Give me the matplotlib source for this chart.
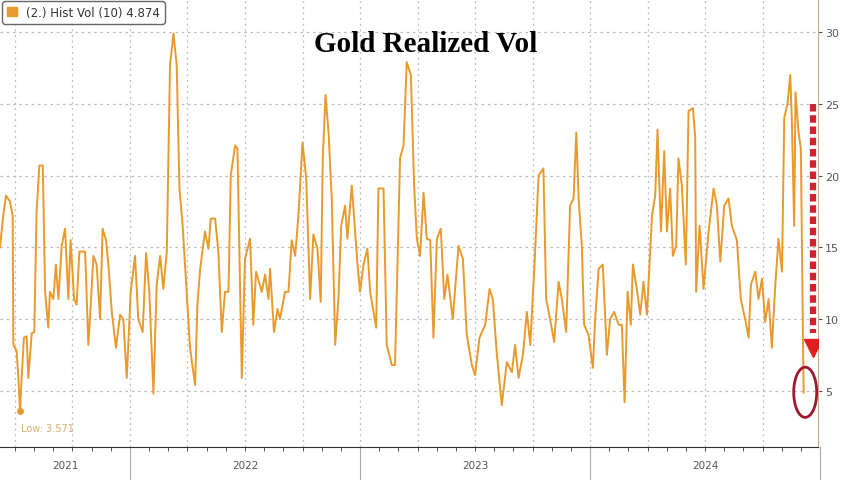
import matplotlib.pyplot as plt
from matplotlib.patches import Ellipse, Patch

# decimal year, realized vol (10d)
dates = [
    2021.435, 2021.449, 2021.461, 2021.478, 2021.490, 2021.493, 2021.507, 2021.515, 2021.522, 2021.529,
    2021.539, 2021.551, 2021.558, 2021.573, 2021.584, 2021.594, 2021.606, 2021.621, 2021.631, 2021.645,
    2021.652, 2021.667, 2021.678, 2021.689, 2021.703, 2021.718, 2021.732, 2021.742, 2021.757, 2021.768,
    2021.780, 2021.805, 2021.819, 2021.826, 2021.841, 2021.855, 2021.870, 2021.881, 2021.896, 2021.906,
    2021.921, 2021.939, 2021.957, 2021.971, 2021.986, 2022.003, 2022.022, 2022.036, 2022.055, 2022.070,
    2022.084, 2022.102, 2022.116, 2022.131, 2022.145, 2022.160, 2022.174, 2022.189, 2022.203, 2022.215,
    2022.229, 2022.261, 2022.283, 2022.293, 2022.305, 2022.326, 2022.341, 2022.351, 2022.370, 2022.384,
    2022.399, 2022.413, 2022.428, 2022.438, 2022.457, 2022.467, 2022.486, 2022.500, 2022.522, 2022.536,
    2022.548, 2022.573, 2022.587, 2022.602,
    2022.609, 2022.626, 2022.641, 2022.652, 2022.674, 2022.689, 2022.703, 2022.718, 2022.732, 2022.750,
    2022.766, 2022.783, 2022.797, 2022.815, 2022.829, 2022.838, 2022.850, 2022.863, 2022.877, 2022.892,
    2022.906, 2022.918, 2022.935, 2022.945, 2022.964, 2022.989, 2023.000, 2023.015, 2023.032, 2023.044,
    2023.070, 2023.080, 2023.102, 2023.116, 2023.138, 2023.152, 2023.174, 2023.189, 2023.203, 2023.221,
    2023.235, 2023.247, 2023.261, 2023.276, 2023.290, 2023.305, 2023.319, 2023.334, 2023.351, 2023.366,
    2023.380, 2023.403, 2023.428, 2023.447, 2023.464, 2023.486, 2023.500, 2023.519, 2023.544, 2023.563,
    2023.577, 2023.595, 2023.616, 2023.638, 2023.660, 2023.674, 2023.689, 2023.708, 2023.725, 2023.740,
    2023.761, 2023.776,
    2023.797, 2023.809, 2023.826, 2023.844, 2023.863, 2023.877, 2023.896, 2023.913, 2023.928, 2023.940,
    2023.950, 2023.964, 2023.974, 2023.993, 2024.012, 2024.022, 2024.037, 2024.055, 2024.073, 2024.087,
    2024.105, 2024.124, 2024.138, 2024.150, 2024.163, 2024.177, 2024.186, 2024.203, 2024.218, 2024.232,
    2024.247, 2024.269, 2024.283, 2024.293, 2024.308, 2024.322, 2024.334, 2024.348, 2024.360, 2024.374,
    2024.384, 2024.399, 2024.416, 2024.428, 2024.447, 2024.457, 2024.461, 2024.476, 2024.493, 2024.515,
    2024.537, 2024.551, 2024.566, 2024.583, 2024.602, 2024.616, 2024.638, 2024.655, 2024.674, 2024.689,
    2024.699, 2024.718, 2024.732, 2024.747, 2024.761, 2024.776, 2024.790, 2024.805, 2024.819, 2024.834,
    2024.844, 2024.858, 2024.870, 2024.877, 2024.887, 2024.893, 2024.906, 2024.916, 2024.928,
]
vol = [
    15.0, 17.2, 18.6, 18.2, 17.2, 8.2, 7.8, 5.9, 3.571, 5.9,
    8.7, 8.8, 5.9, 9.0, 9.1, 17.5, 20.7, 20.7, 11.9, 9.4,
    11.9, 11.4, 13.8, 11.4, 15.1, 16.3, 11.4, 15.5, 11.4, 11.0,
    14.7, 14.7, 8.2, 10.0, 14.4, 13.8, 10.0, 16.3, 15.5, 13.8,
    10.5, 8.0, 10.3, 10.0, 5.9, 11.9, 14.4, 10.0, 9.1, 14.6,
    11.9, 4.8, 12.4, 14.4, 12.1, 14.7, 27.7, 29.9, 27.7, 19.1,
    16.5, 8.0, 5.4, 11.0, 13.5, 16.1, 14.9, 17.0, 17.0, 14.7,
    9.1, 11.9, 11.9, 20.0, 22.1, 21.9, 5.9, 14.2, 15.6, 9.6,
    13.3, 11.9, 13.1, 11.4,
    13.5, 9.1, 10.7, 10.0, 11.9, 11.9, 15.5, 14.4, 17.2, 22.3,
    19.8, 11.4, 15.9, 14.9, 11.2, 21.2, 25.6, 23.0, 18.4, 8.2,
    11.4, 16.5, 17.9, 15.6, 19.3, 13.8, 11.9, 13.8, 14.9, 11.9,
    9.4, 19.1, 19.1, 8.2, 6.8, 6.8, 21.2, 22.1, 27.9, 27.0,
    19.3, 15.6, 14.4, 18.8, 15.6, 15.5, 8.7, 15.6, 16.3, 11.4,
    13.1, 10.0, 15.1, 14.2, 8.9, 6.8, 6.1, 8.7, 9.6, 12.1,
    11.4, 7.5, 4.0, 7.0, 6.3, 8.2, 5.9, 7.5, 10.5, 8.2,
    14.7, 20.0,
    20.5, 11.4, 10.0, 8.4, 12.6, 11.4, 9.1, 17.9, 18.4, 23.0,
    18.4, 15.1, 9.6, 8.9, 6.6, 10.0, 13.5, 13.8, 7.5, 10.0,
    10.5, 9.6, 9.6, 4.2, 11.9, 9.6, 13.8, 12.1, 10.3, 12.6,
    10.3, 17.2, 18.6, 23.2, 16.1, 21.7, 16.1, 19.1, 14.4, 15.1,
    21.2, 19.3, 13.8, 24.5, 24.7, 22.6, 11.9, 16.5, 12.1, 16.1,
    19.1, 17.9, 14.0, 17.9, 18.4, 16.5, 15.5, 11.4, 10.0, 8.7,
    12.4, 13.3, 11.4, 12.8, 9.8, 11.4, 8.0, 12.4, 15.6, 13.3,
    24.0, 25.0, 27.0, 23.8, 16.5, 25.8, 23.0, 21.9, 4.874,
]
years = [2021, 2022, 2023, 2024]
yticks = [5, 10, 15, 20, 25, 30]

line_color = '#E89A2C'
gray = '#555555'
x0, x1 = 2021.435, 2024.992

fig = plt.figure(figsize=(8.48, 4.81), dpi=100)
ax = fig.add_axes([0.0, 0.069, 0.965, 0.931])
ax.plot(dates, vol, color=line_color, lw=1.4, zorder=3)

# low marker
ax.plot(dates[8], vol[8], 'o', color=line_color, ms=4, zorder=4)
ax.text(dates[8] + 0.005, 2.4, 'Low: 3.571', color='#D9B070', fontsize=7, va='center')

# grid at quarters
quarters = [y + q / 4 for y in range(2021, 2025) for q in range(4)] + [2025]
for q in quarters:
    ax.axvline(q, color='#BBBBBB', ls=(0, (1.5, 3)), lw=0.9, zorder=1)
for y in yticks:
    ax.axhline(y, color='#BBBBBB', ls=(0, (2, 3)), lw=0.9, zorder=1)

ax.yaxis.tick_right()
ax.set_yticks(yticks)
ax.tick_params(axis='y', colors=gray, labelsize=8, length=3, pad=2)
months = [y + m / 12 for y in range(2021, 2025) for m in range(12)]
ax.set_xticks(months, minor=True)
ax.set_xticks([])
ax.tick_params(axis='x', which='minor', length=3, color='#333333')
for s in ['top', 'left']:
    ax.spines[s].set_visible(False)
ax.spines['right'].set_color('#C8B27A')
ax.spines['bottom'].set_color('#333333')
ax.set_xlim(x0, x1)
ax.set_ylim(1.1, 32.3)

# year labels and separators
for y in years:
    center = (x0 + 2022) / 2 if y == 2021 else y + 0.5
    ax.text(center, -0.03, str(y), transform=ax.get_xaxis_transform(),
            ha='center', va='top', fontsize=7.5, color=gray)
    if y > 2021:
        ax.plot([y, y], [0, -0.075], transform=ax.get_xaxis_transform(),
                color='#AAAAAA', lw=0.8, clip_on=False)
ax.plot([2025, 2025], [0, -0.075], transform=ax.get_xaxis_transform(),
        color='#AAAAAA', lw=0.8, clip_on=False)

ax.text(0.52, 0.9, 'Gold Realized Vol', transform=ax.transAxes, ha='center',
        va='center', fontsize=21, fontweight='bold', family='Liberation Serif')

leg = ax.legend(handles=[Patch(color=line_color)], labels=['(2.) Hist Vol (10) 4.874'],
                loc='upper left', bbox_to_anchor=(0.0, 1.0), fontsize=8.5, handlelength=0.8,
                handleheight=0.8, borderaxespad=0.2, fancybox=True, framealpha=1)
leg.get_frame().set_edgecolor('#666666')
for t in leg.get_texts():
    t.set_color('#333333')

# red dashed arrow and circle
ax.plot([2024.97, 2024.97], [25, 9.0], color='#D42030', lw=4.5, ls=(0, (1.2, 0.6)), zorder=5)
ax.plot(2024.97, 8.0, marker='v', color='#E02020', ms=13, zorder=5)
ax.add_patch(Ellipse((2024.935, 4.9), 0.1, 3.5, fill=False, edgecolor='#A01830', lw=2, zorder=5))
ax.set_xlim(x0, x1)

fig.savefig('out.png', dpi=100)
